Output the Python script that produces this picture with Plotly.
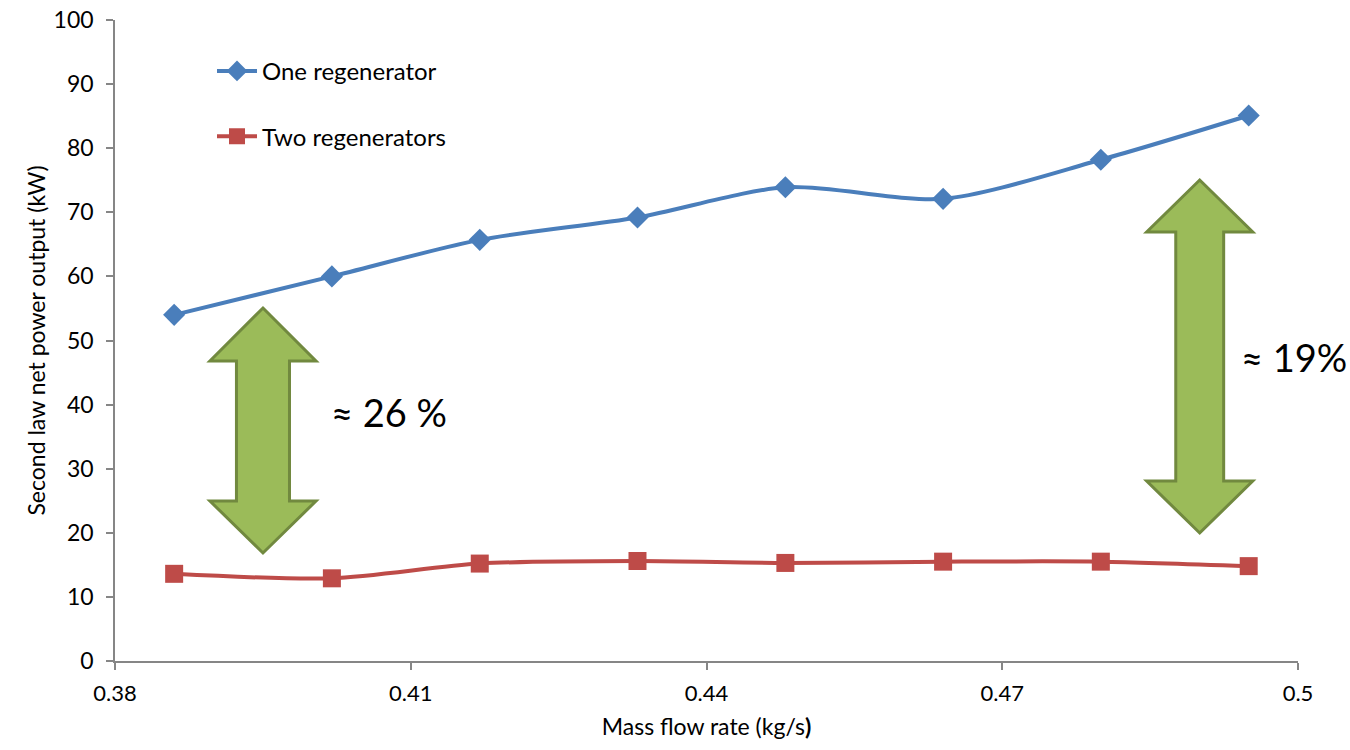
import plotly.graph_objects as go

# Mass flow rate (kg/s)
mass_flow = [0.386, 0.402, 0.417, 0.433, 0.448, 0.464, 0.480, 0.495]
# Second law net power output (kW)
one_regen = [54.0, 60.0, 65.7, 69.2, 73.9, 72.1, 78.2, 85.1]
two_regen = [13.6, 12.9, 15.2, 15.6, 15.3, 15.5, 15.5, 14.8]

x_ticks = [0.38, 0.41, 0.44, 0.47, 0.5]
x_tick_labels = ["0.38", "0.41", "0.44", "0.47", "0.5"]
y_ticks = list(range(0, 101, 10))

FONT = "Lato, Calibri, 'Open Sans', sans-serif"
AXIS_GRAY = "#868686"
BLUE = "#4A7EBB"
RED = "#BE4B48"
GREEN_FILL = "#9BBB59"
GREEN_EDGE = "#71893F"

fig = go.Figure()
fig.add_trace(go.Scatter(
    x=mass_flow, y=one_regen, name="One regenerator", mode="lines+markers",
    line=dict(color=BLUE, width=4, shape="spline", smoothing=0.8),
    marker=dict(symbol="diamond", size=17, color=BLUE),
    legendgroup="a",
))
fig.add_trace(go.Scatter(
    x=mass_flow, y=two_regen, name="Two regenerators", mode="lines+markers",
    line=dict(color=RED, width=4, shape="spline", smoothing=0.8),
    marker=dict(symbol="square", size=18, color=RED),
    legendgroup="b",
))


def double_arrow(xc, y_tip_top, y_sh_top, y_sh_bot, y_tip_bot, head_hw, shaft_hw):
    pts = [
        (xc, y_tip_top),
        (xc + head_hw, y_sh_top),
        (xc + shaft_hw, y_sh_top),
        (xc + shaft_hw, y_sh_bot),
        (xc + head_hw, y_sh_bot),
        (xc, y_tip_bot),
        (xc - head_hw, y_sh_bot),
        (xc - shaft_hw, y_sh_bot),
        (xc - shaft_hw, y_sh_top),
        (xc - head_hw, y_sh_top),
    ]
    path = "M " + " L ".join(f"{x},{y}" for x, y in pts) + " Z"
    return dict(type="path", path=path, xref="x", yref="y",
                fillcolor=GREEN_FILL, line=dict(color=GREEN_EDGE, width=3),
                layer="above")


fig.update_layout(
    shapes=[
        double_arrow(0.39501, 55.07, 46.8, 24.96, 16.85, 0.00538, 0.00269),
        double_arrow(0.49003, 75.04, 66.93, 28.08, 19.97, 0.00538, 0.00243),
    ],
    annotations=[
        dict(x=0.4017, y=38.8, xref="x", yref="y", text="≈ 26 %", showarrow=False,
             xanchor="left", yanchor="middle", font=dict(family=FONT, size=38, color="black")),
        dict(x=0.4940, y=47.4, xref="x", yref="y", text="≈ 19%", showarrow=False,
             xanchor="left", yanchor="middle", font=dict(family=FONT, size=38, color="black")),
    ],
    width=1350, height=750,
    margin=dict(l=115, r=52, t=20, b=89),
    paper_bgcolor="white", plot_bgcolor="white",
    font=dict(family=FONT, size=22, color="black"),
    showlegend=True,
    legend=dict(x=0.082, y=0.955, xanchor="left", yanchor="top",
                bgcolor="rgba(0,0,0,0)", font=dict(family=FONT, size=24),
                tracegroupgap=31, itemwidth=40),
    xaxis=dict(
        range=[0.38, 0.5], tickvals=x_ticks, ticktext=x_tick_labels,
        showgrid=False, zeroline=False, showline=True, linecolor=AXIS_GRAY, linewidth=1.5,
        ticks="outside", ticklen=7, tickcolor=AXIS_GRAY, tickwidth=1.5,
        tickfont=dict(family=FONT, size=22), ticklabelstandoff=5, automargin=False,
        title=dict(text="Mass flow rate (kg/s<b>)</b>", font=dict(family=FONT, size=23), standoff=14),
    ),
    yaxis=dict(
        range=[0, 100], tickvals=y_ticks,
        showgrid=False, zeroline=False, showline=True, linecolor=AXIS_GRAY, linewidth=1.5,
        ticks="outside", ticklen=7, tickcolor=AXIS_GRAY, tickwidth=1.5,
        tickfont=dict(family=FONT, size=23), ticklabelstandoff=8, automargin=False,
        title=dict(text="Second law net power output (kW)", font=dict(family=FONT, size=23), standoff=2),
    ),
)

fig.write_html("out.html")
